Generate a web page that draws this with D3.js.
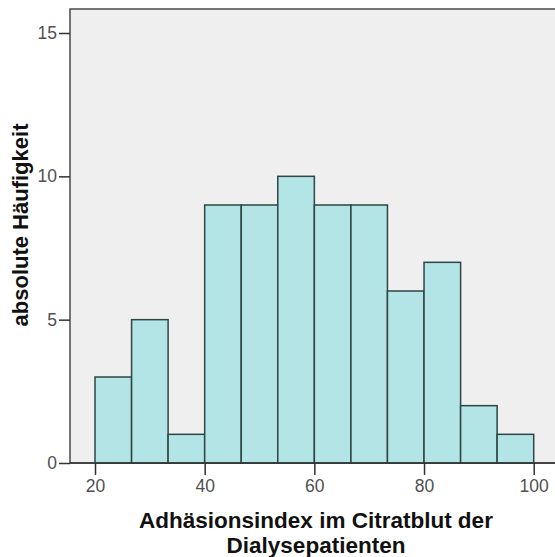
<!DOCTYPE html>
<html>
<head>
<meta charset="utf-8">
<script src="https://cdn.jsdelivr.net/npm/d3@7"></script>
<style>
  body { margin: 0; background: #fff; }
  svg { display: block; }
</style>
</head>
<body>
<svg id="chart"></svg>
<script>
'use strict'

// bin edges of the histogram (Adhäsionsindex), and counts per bin
var binStarts = [20, 26.67, 33.33, 40, 46.67, 53.33, 60, 66.67, 73.33, 80, 86.67, 93.33];
var binEnds = [26.67, 33.33, 40, 46.67, 53.33, 60, 66.67, 73.33, 80, 86.67, 93.33, 100];
var counts = [3, 5, 1, 9, 9, 10, 9, 9, 6, 7, 2, 1];
var xTicks = [20, 40, 60, 80, 100];
var yTicks = [0, 5, 10, 15];

var WIDTH = 555,
	HEIGHT = 557;

var plotLeft = 70, plotTop = 9, plotRight = 560, plotBottom = 463;

var svg = d3.select("#chart")
	.attr("width", WIDTH)
	.attr("height", HEIGHT)
	.style("font-family", "'Liberation Sans', Arial, sans-serif");

var x = d3.scaleLinear().domain([20, 100]).range([95, 533.7]);
var y = d3.scaleLinear().domain([0, 15]).range([plotBottom, 33]);

// plot background
svg.append("rect")
	.attr("x", plotLeft)
	.attr("y", plotTop)
	.attr("width", plotRight - plotLeft)
	.attr("height", plotBottom - plotTop)
	.style("fill", "#efefef")
	.style("stroke", "#4a4a4a")
	.style("stroke-width", 1.5);

// bars
svg.selectAll("rect.bar")
	.data(counts)
	.enter()
	.append("rect")
	.attr("class", "bar")
	.attr("x", function (d, i) { return x(binStarts[i]); })
	.attr("y", function (d) { return y(d); })
	.attr("width", function (d, i) { return x(binEnds[i]) - x(binStarts[i]); })
	.attr("height", function (d) { return y(0) - y(d); })
	.style("fill", "#b4e5e6")
	.style("stroke", "#2f4444")
	.style("stroke-width", 1.5);

// y axis
var yAxis = svg.append("g")
	.attr("transform", "translate(" + plotLeft + ",0)")
	.call(d3.axisLeft(y).tickValues(yTicks).tickSize(11).tickPadding(2));

// x axis
var xAxis = svg.append("g")
	.attr("transform", "translate(0," + plotBottom + ")")
	.call(d3.axisBottom(x).tickValues(xTicks).tickSize(12).tickPadding(5));

[yAxis, xAxis].forEach(function (a) {
	a.select(".domain").remove();
	a.selectAll(".tick line").style("stroke", "#333").style("stroke-width", 1.5);
	a.selectAll(".tick text")
		.style("font-size", "17.5px")
		.style("fill", "#505050")
		.style("font-family", "'Liberation Sans', Arial, sans-serif");
});

// redraw bottom frame line over bars
svg.append("line")
	.attr("x1", plotLeft).attr("x2", plotRight)
	.attr("y1", plotBottom).attr("y2", plotBottom)
	.style("stroke", "#333").style("stroke-width", 1.5);

// axis titles
svg.append("text")
	.attr("transform", "translate(28,225) rotate(-90)")
	.style("text-anchor", "middle")
	.style("font-size", "22px")
	.style("font-weight", "bold")
	.style("fill", "#111")
	.text("absolute Häufigkeit");

svg.append("text")
	.attr("x", 316)
	.attr("y", 528)
	.style("text-anchor", "middle")
	.style("font-size", "22.5px")
	.style("font-weight", "bold")
	.style("fill", "#111")
	.text("Adhäsionsindex im Citratblut der");

svg.append("text")
	.attr("x", 316)
	.attr("y", 553)
	.style("text-anchor", "middle")
	.style("font-size", "22.5px")
	.style("font-weight", "bold")
	.style("fill", "#111")
	.text("Dialysepatienten");
</script>
</body>
</html>
